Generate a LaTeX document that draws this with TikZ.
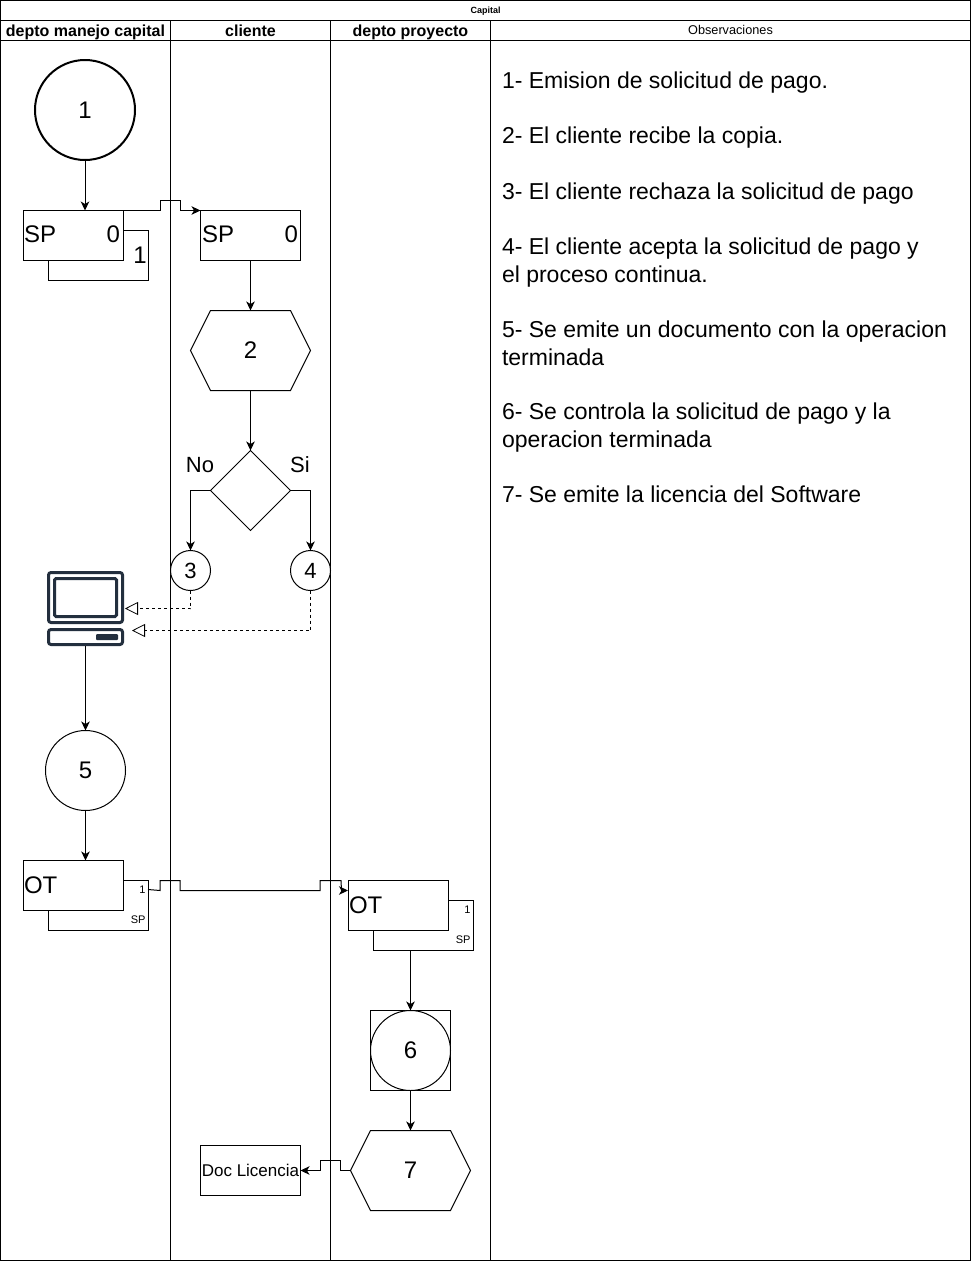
\documentclass[tikz,border=0pt]{standalone}
\usepackage{fontspec}
\setmainfont{Liberation Sans}
\usetikzlibrary{arrows.meta,shapes.geometric,calc}
\definecolor{icon}{HTML}{232F3E}
\tikzset{
 box/.style={draw,rectangle,minimum width=100pt,minimum height=50pt,inner sep=0pt,outer sep=0pt,fill=white},
 flow/.style={draw,-{Stealth[length=9pt,width=8.5pt,inset=2.5pt]},line width=1pt},
 dash line/.style={draw,dashed,dash pattern=on 3pt off 3pt,-{Triangle[open,length=13pt,width=13pt,fill=white]},line width=.8pt},
 circ/.style={draw,circle,inner sep=0pt,outer sep=0pt,fill=white},
 hex/.style={inner sep=0pt,outer sep=0pt},
 big/.style={font=\fontsize{24}{24}\selectfont},
 mid/.style={font=\fontsize{22}{22}\selectfont,inner sep=0pt},
 lab/.style={font=\fontsize{24}{24}\selectfont,inner sep=0pt},
 small/.style={font=\fontsize{11}{11}\selectfont,inner sep=0pt},
 hdr/.style={font=\fontsize{16}{16}\selectfont\bfseries,inner sep=0pt,anchor=base},
 obs/.style={font=\fontsize{23}{28}\selectfont,anchor=north west,inner sep=0pt,align=left},
}
\begin{document}
\begin{tikzpicture}[x=1pt,y=-1pt,line width=1pt]
\useasboundingbox (0,0) rectangle (972,1261);
% swimlanes
\draw (0.5,0.5) rectangle (970.5,1260);
\draw (0.5,20.5) -- (970.5,20.5);
\draw (0.5,40.5) -- (970.5,40.5);
\foreach \x in {170.5,330.5,490.5} \draw (\x,20.5) -- (\x,1260);
\node[font=\fontsize{9}{9}\selectfont\bfseries,inner sep=0pt,anchor=base] (title) at (485.5,13) {Capital};
\node[hdr] (h1) at (85.5,36) {depto manejo capital};
\node[hdr] (h2) at (250.5,36) {cliente};
\node[hdr] (h3) at (410.5,36) {depto proyecto};
\node[font=\fontsize{12.7}{12.7}\selectfont,inner sep=0pt,anchor=base] (h4) at (730.5,34) {Observaciones};
% observations
\node[obs] (o1) at (501.5,71) {1- Emision de solicitud de pago.};
\node[obs] (o2) at (501.5,126) {2- El cliente recibe la copia.};
\node[obs] (o3) at (501.5,182) {3- El cliente rechaza la solicitud de pago};
\node[obs] (o4) at (501.5,237) {4- El cliente acepta la solicitud de pago y\\el proceso continua.};
\node[obs] (o5) at (501.5,320) {5- Se emite un documento con la operacion\\terminada};
\node[obs] (o6) at (501.5,402) {6- Se controla la solicitud de pago y la\\operacion terminada};
\node[obs] (o7) at (501.5,485) {7- Se emite la licencia del Software};
% shapes
\node[circ,line width=2pt,minimum size=100pt,big] (c1) at (85,110) {1};
\node[box,anchor=north west] (spb) at (48,230.5) {};
\node[box,anchor=north west] (sp1) at (23,210.5) {};
\node[lab,anchor=west] (t1) at (23.5,234.5) {SP};
\node[lab,anchor=east] (t2) at (120.5,234.5) {0};
\node[lab] (t3) at (140,255) {1};
\node[box,anchor=north west] (sp2) at (200.5,210.5) {};
\node[lab,anchor=west] (t4) at (201.5,234.5) {SP};
\node[lab,anchor=east] (t5) at (298.5,234.5) {0};
\node[hex,minimum width=120pt,minimum height=80pt] (hx2) at (250.5,350.5) {};
\draw (hx2.west) -- (210.5,310.5) -- (290.5,310.5) -- (hx2.east) -- (290.5,390.5) -- (210.5,390.5) -- cycle;
\node[big] (t6) at (hx2) {2};
\node[draw,diamond,aspect=1,inner sep=0pt,outer sep=0pt,minimum size=80pt] (dec) at (250.5,490.5) {};
\node[mid] (t7) at (200,465) {No};
\node[mid] (t8) at (300,465) {Si};
\node[circ,minimum size=40pt,mid] (c3) at (190.5,570.5) {3};
\node[circ,minimum size=40pt,mid] (c4) at (310.5,570.5) {4};
\node[circ,minimum size=80pt,big] (c5) at (85.5,770.5) {5};
\node[box,anchor=north west] (otb1) at (48,880.5) {};
\node[box,anchor=north west] (ot1) at (23,860.5) {};
\node[lab,anchor=west] (t9) at (23.5,885) {OT};
\node[small,anchor=east] (t10) at (146,890) {1};
\node[small,anchor=east] (t11) at (146,920) {SP};
\node[box,anchor=north west] (otb2) at (373,900.5) {};
\node[box,anchor=north west] (ot2) at (348,880.5) {};
\node[lab,anchor=west] (t12) at (348.5,905) {OT};
\node[small,anchor=east] (t13) at (471,910) {1};
\node[small,anchor=east] (t14) at (471,940) {SP};
\node[draw,rectangle,minimum size=80pt,inner sep=0pt,outer sep=0pt] (sq6) at (410.5,1050.5) {};
\node[circ,minimum size=80pt,big] (c6) at (410.5,1050.5) {6};
\node[hex,minimum width=120pt,minimum height=80pt] (hx7) at (410.5,1170.5) {};
\draw (hx7.west) -- (370.5,1130.5) -- (450.5,1130.5) -- (hx7.east) -- (450.5,1210.5) -- (370.5,1210.5) -- cycle;
\node[big] (t15) at (hx7) {7};
\node[box,anchor=north west,font=\fontsize{17}{17}\selectfont] (lic) at (200.5,1145.5) {Doc Licencia};
% computer icon
\node[inner sep=0pt,outer sep=0pt,minimum width=77pt,minimum height=75pt] (pc) at (85.5,608.5) {};
\draw[icon,line width=3pt,rounded corners=2.5pt] (48.5,572.5) rectangle (122.5,622.5);
\draw[icon,line width=3pt,rounded corners=1.5pt] (54.5,578.5) rectangle (116.5,616.5);
\draw[icon,line width=3pt,rounded corners=2.5pt] (48.5,629.5) rectangle (122.5,644.5);
\fill[icon,rounded corners=1pt] (96,634) rectangle (118,640);
% connectors
\draw[flow] (c1.south) -- (sp1.north -| c1.south);
\draw[flow] (sp1.north east) -- ++(37,0) -- ++(0,-10) -- ++(20,0) -- ++(0,10) -- (sp2.north west);
\draw[flow] (sp2.south) -- (hx2.north);
\draw[flow] (hx2.south) -- (dec.north);
\draw[flow] (dec.west) -| (c3.north);
\draw[flow] (dec.east) -| (c4.north);
\draw[dash line] (c3.south) |- ($(pc.east)+(1,0)$);
\draw[dash line] (c4.south) |- ($(pc.east)+(8,22)$);
\draw[flow] (pc.south) -- (c5.north);
\draw[flow] (c5.south) -- (ot1.north -| c5.south);
\draw[flow] (otb1.north east) ++(0,9) -- ++(12,1) -- ++(0,-10) -- ++(20,0) -- ++(0,10) -- ++(140,0) -- ++(0,-10) -- ++(21,0) -- ++(0.5,10) -- ($(ot2.north west)+(0,10)$);
\draw[flow] (otb2.south -| sq6.north) -- (sq6.north);
\draw[flow] (sq6.south) -- (hx7.north);
\draw[flow] (hx7.west) -- ++(-10,0) -- ++(0,-10) -- ++(-20,0) -- ++(0,10) -- (lic.east);
\end{tikzpicture}
\end{document}
